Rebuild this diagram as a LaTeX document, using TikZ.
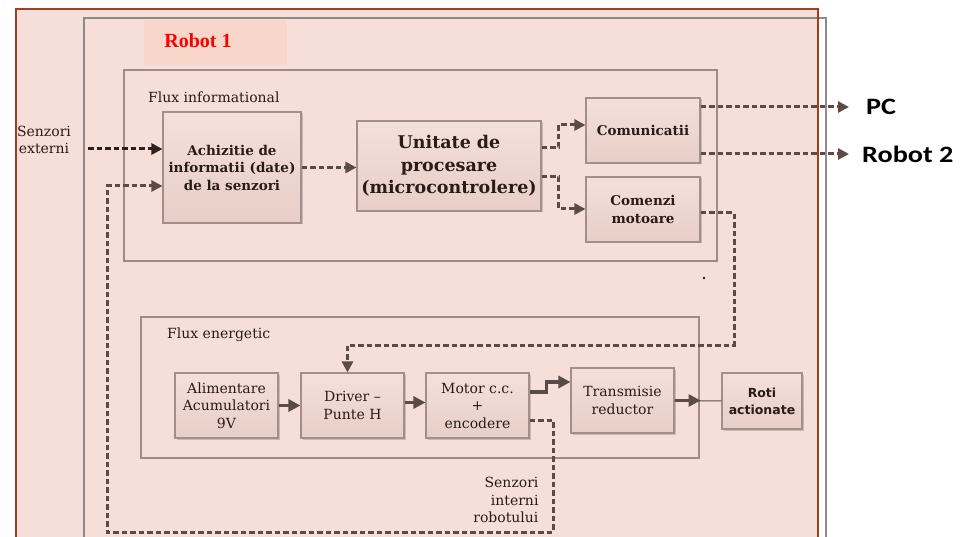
\documentclass[tikz,border=0pt]{standalone}
\usepackage{fontspec}
\setmainfont{DejaVu Serif}
\newfontfamily\labelsans[FakeStretch=1.2]{Carlito}
\newfontfamily\boxsans{DejaVu Sans}
\newfontfamily\titleserif{Liberation Serif}
\usetikzlibrary{arrows.meta,calc,shadows}

\definecolor{bgpink}{HTML}{F6DFD8}
\definecolor{robotpink}{HTML}{F9D6CA}
\definecolor{redline}{HTML}{A63C1F}
\definecolor{grayline}{HTML}{8E8886}
\definecolor{frameline}{HTML}{9E8B86}
\definecolor{boxline}{HTML}{A38E89}
\definecolor{boxtop}{HTML}{F4E0DA}
\definecolor{boxbot}{HTML}{E8CEC7}
\definecolor{arrowcol}{HTML}{5C4A46}
\definecolor{darkarrow}{HTML}{2E201C}
\definecolor{inktext}{HTML}{2B1B17}

\tikzset{
  blk/.style={draw=boxline, line width=1.1pt, top color=boxtop, bottom color=boxbot,
    drop shadow={shadow xshift=1.5pt, shadow yshift=-1.5pt, opacity=0.25, fill=black!70},
    align=center, inner sep=2pt, text=inktext},
  boldtxt/.style={font=\fontsize{13.5}{17.5}\selectfont\bfseries},
  plaintxt/.style={font=\fontsize{14}{17.5}\selectfont},
  frame/.style={draw=frameline, line width=1.1pt},
  dasharrow/.style={draw=arrowcol, line width=3pt, dash pattern=on 5.5pt off 3pt,
    -{Triangle[length=11pt,width=11pt]}},
  solidarrow/.style={draw=arrowcol, line width=3.6pt, -{Triangle[length=12pt,width=12pt]}},
}

\begin{document}
\begin{tikzpicture}[x=1pt,y=-1pt]
\useasboundingbox (0,0) rectangle (961,537);
\clip (0,0) rectangle (961,537);

% outer robot frame
\fill[bgpink] (16,9) rectangle (818,560);
\draw[grayline, line width=1.1pt] (84,18) rectangle (826,560);
\draw[redline, line width=2.8pt] (16,9) rectangle (818,560);
\fill[robotpink] (144,20) rectangle (287,65);
\node[font=\titleserif\fontsize{20}{22}\selectfont\bfseries, text=red] (r1) at (198,41) {Robot 1};

% group frames
\draw[frame] (124,70) rectangle (717,261);
\node[plaintxt, anchor=west, inner sep=0, text=inktext] (fi) at (148,97) {Flux informational};
\draw[frame] (141,317) rectangle (699,458);
\node[plaintxt, anchor=west, inner sep=0, text=inktext] (fe) at (167,335) {Flux energetic};

% information blocks
\node[blk, boldtxt, minimum width=138pt, minimum height=111pt] (acq) at (232,167.5)
  {Achizitie de\\informatii (date)\\de la senzori};
\node[blk, font=\fontsize{17.5}{22.5}\selectfont\bfseries, minimum width=184pt, minimum height=90pt] (unit) at (449,166)
  {Unitate de\\procesare\\(microcontrolere)};
\node[blk, boldtxt, minimum width=114pt, minimum height=65pt] (com) at (643,130.5) {Comunicatii};
\node[blk, boldtxt, minimum width=114pt, minimum height=65pt] (cmd) at (643,209.5) {Comenzi\\motoare};

% energy blocks
\node[blk, plaintxt, minimum width=103pt, minimum height=65pt] (ali) at (226.5,405.5) {Alimentare\\Acumulatori\\9V};
\node[blk, plaintxt, minimum width=103pt, minimum height=65pt] (drv) at (352.5,405.5) {Driver --\\Punte H};
\node[blk, plaintxt, minimum width=103pt, minimum height=65pt] (mot) at (477.5,405.5) {Motor c.c.\\+\\encodere};
\node[blk, plaintxt, minimum width=103pt, minimum height=65pt] (tra) at (622.5,400.5) {Transmisie\\reductor};
\node[blk, font=\boxsans\fontsize{12.5}{17}\selectfont\bfseries, minimum width=80pt, minimum height=56pt] (roti) at (762,401) {Roti\\actionate};

% side labels
\node[plaintxt, align=center, text=inktext] (se) at (44,140) {Senzori\\externi};
\node[plaintxt, align=right, anchor=east, text=inktext] (si) at (542,500) {Senzori\\interni\\robotului};
\node[font=\labelsans\fontsize{23.5}{26}\selectfont\bfseries, anchor=west, inner sep=0] (pc) at (866,107) {PC};
\node[font=\labelsans\fontsize{23.5}{26}\selectfont\bfseries, anchor=west, inner sep=0] (r2) at (862,154) {Robot 2};
\fill[inktext] (704,278) circle (1.4pt);

% information flow
\coordinate (seStart) at (88,149);
\draw[dasharrow, draw=darkarrow] (seStart) -- (acq.west |- seStart);
\draw[dasharrow] (acq.east) -- (unit.west |- acq.east);
\draw[dasharrow] ($(unit.east)+(0,-18)$) -- ++(17,0) |- ($(com.west)+(0,-5.5)$);
\draw[dasharrow] ($(unit.east)+(0,11)$) -- ++(17,0) |- ($(cmd.west)+(0,-0.5)$);
\draw[dasharrow] ($(com.east)+(0,-23.5)$) -- ([xshift=-17pt]pc.west);
\draw[dasharrow] ($(com.east)+(0,23.5)$) -- ([xshift=-13pt]r2.west);
\draw[dasharrow] ($(cmd.east)+(0,3.5)$) -- (734,213) -- (734,345) -| ($(drv.north)+(-5,0)$);

% internal sensor feedback
\draw[dasharrow] ($(mot.east)+(0,14.5)$) -- (553,420) -- (553,532) -- (107,532) -- (107,186) -- (acq.west |- 0,186);

% energy flow
\draw[solidarrow] (ali.east) -- (drv.west);
\draw[solidarrow] ($(drv.east)+(0,-3)$) -- ($(mot.west)+(0,-3)$);
\draw[solidarrow] ($(mot.east)+(0,-13.5)$) -- ++(17,0) -- ++(0,-10) -- ($(tra.west)+(0,-18.5)$);
\draw[arrowcol, line width=1pt] (tra.east) -- (roti.west);
\draw[solidarrow] (tra.east) -- ++(26,0);
\end{tikzpicture}
\end{document}
